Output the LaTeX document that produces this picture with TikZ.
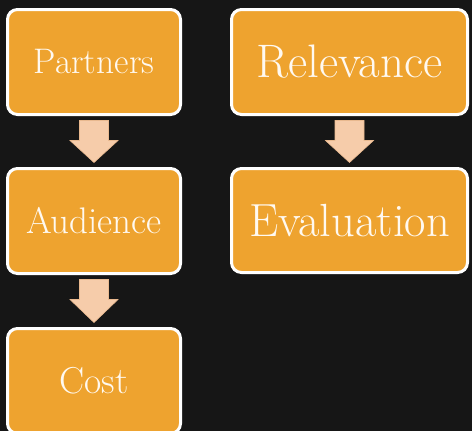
\documentclass[tikz,border=0pt]{standalone}
\usetikzlibrary{calc}
\definecolor{bg}{HTML}{161616}
\definecolor{boxorange}{HTML}{EEA32F}
\definecolor{arrowpeach}{HTML}{F6CCAA}
\definecolor{arrowedge}{HTML}{E9B98F}
\definecolor{txt}{HTML}{FFF9F0}
\tikzset{
  box/.style={draw=white, line width=3pt, fill=boxorange, rounded corners=10pt,
    text=txt, inner sep=0pt, outer sep=0pt, minimum width=173pt, minimum height=105pt},
  bigbox/.style={box, minimum width=236pt},
  blockarrow/.style={fill=arrowpeach, draw=arrowedge, line width=0.6pt},
}
\newcommand{\downblock}[2]{%
  \path[blockarrow] ($(#1.south)+(-14.5,-6)$) -- ++(29,0) -- ++(0,-20) -- ++(9.5,0)
    -- ($(#2.north)+(0,6)$) -- ($(#1.south)+(-24,-26)$) -- ++(9.5,0) -- cycle;}
\begin{document}
\begin{tikzpicture}[x=1pt,y=1pt]
\fill[bg] (0,0) rectangle (472,-431);
\useasboundingbox (0,0) rectangle (472,-431);
\node[box] (P) at (94,-62) {\fontsize{35.5}{42}\selectfont Partners};
\node[bigbox] (R) at (349.5,-62) {\fontsize{47}{56}\selectfont Relevance};
\node[box] (A) at (94,-221) {\fontsize{37}{44}\selectfont Audience};
\node[bigbox, minimum height=104pt] (E) at (349.5,-220.5) {\fontsize{46.5}{56}\selectfont Evaluation};
\node[box] (C) at (94,-381) {\fontsize{37.5}{45}\selectfont Cost};
\downblock{P}{A}
\downblock{R}{E}
\downblock{A}{C}
\end{tikzpicture}
\end{document}
